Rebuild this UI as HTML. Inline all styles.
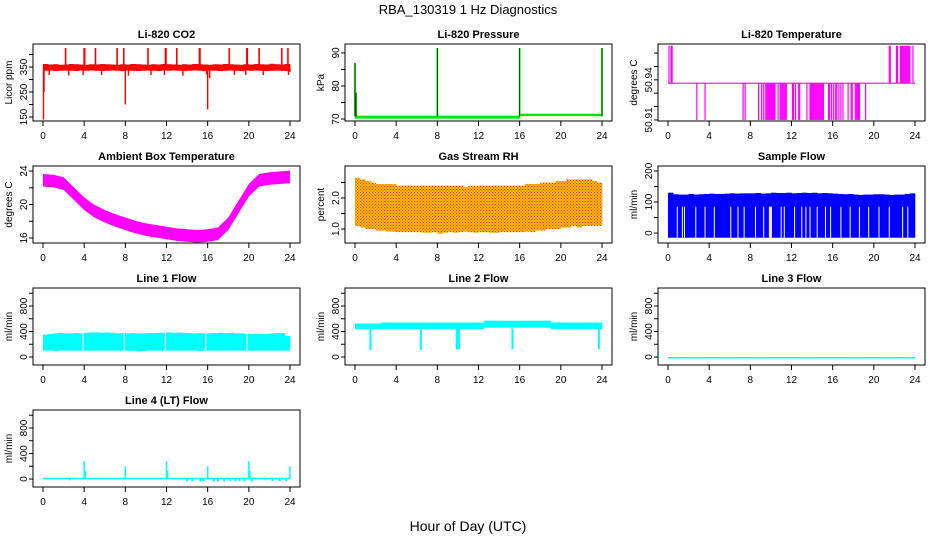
<!DOCTYPE html>
<html><head><meta charset="utf-8"><style>
html,body{margin:0;padding:0;background:#fff;}
svg{display:block;font-family:"Liberation Sans",Arial,sans-serif;}
</style></head><body>
<svg id="chart" width="936" height="540" viewBox="0 0 936 540">
<text x="468" y="14" text-anchor="middle" font-size="13">RBA_130319  1 Hz Diagnostics</text>
<text x="468" y="531" text-anchor="middle" font-size="14">Hour of Day (UTC)</text>
<defs><pattern id="rhpat" width="3" height="3" patternUnits="userSpaceOnUse"><rect width="3" height="3" fill="#ffc000"/><rect width="1" height="1" fill="#f22"/><rect x="1.5" y="1.5" width="1" height="1" fill="#f22"/></pattern></defs>
</svg>
<script>
// ---------- data ----------
const xTicks = [0,4,8,12,16,20,24];
const binHours = Array.from({length:48},(_,i)=>i*0.5);
// CO2
const co2Lo = [335,336,334,335,336,335,334,336,335,336,335,334,335,336,335,334,336,335,334,335,336,335,334,336,335,336,335,334,335,336,335,334,336,335,334,335,336,335,334,336,335,336,335,334,335,336,335,334];
const co2Hi = [362,360,361,359,360,362,361,360,359,361,360,362,361,360,359,361,360,362,361,360,359,361,360,362,361,360,359,361,360,362,361,360,359,361,360,362,361,360,359,361,360,362,361,360,363,361,360,362];
const co2SpikeHours = [2.2,4.0,4.05,5.1,7.2,7.85,10.2,11.9,11.95,13.0,15.2,15.25,18.1,19.8,19.85,21.0,23.2,23.8];
const co2SpikeVals = [426,426,426,426,426,426,426,426,426,426,426,426,426,426,426,426,426,426];
const co2DipHours = [0.05,0.1,0.6,2.5,3.9,5.7,8.0,8.3,10.5,11.8,13.6,15.9,16.0,16.2,18.6,19.7,21.4,23.85,24.0];
const co2DipVals = [140,250,318,316,318,318,200,315,318,318,315,320,180,305,318,318,318,318,330];
// Pressure
const presLo = binHours.map(h=>h<16?70.1:70.9);
const presHi = binHours.map(h=>h<16?71.0:71.6);
const presSpikeHours = [0.0,0.1,8.0,16.0,24.0];
const presSpikeVals = [87,78,91.5,91.5,91.5];
// Li-820 temperature
const ltBase = 50.9375;
const ltUpHours = [0.1,0.3,0.4,21.5,21.6,22.2,22.3,22.6,22.7,22.8,22.9,23.0,23.1,23.2,23.3,23.4,23.5,23.8];
const ltDownHours = [2.8,3.6,7.3,7.5,8.8,9.1,9.3,9.5,9.6,9.7,9.8,9.9,10.0,10.1,10.2,10.3,10.4,10.7,10.9,11.0,11.1,11.2,11.3,11.4,11.5,12.1,12.2,12.4,12.7,12.8,13.5,13.8,13.9,14.0,14.1,14.2,14.3,14.4,14.5,14.6,14.7,14.8,14.9,15.0,15.1,15.6,15.7,15.9,16.1,16.3,16.4,16.6,16.8,17.0,17.5,17.8,17.9,18.2,18.3,18.4,18.5,18.6,19.2];
// Ambient temperature
const ambHours = [0,1,2,3,4,5,6,7,8,9,10,11,12,13,14,15,16,17,18,19,20,21,22,23,24];
const ambMid = [22.9,22.8,22.5,21.3,20.1,19.2,18.6,18.1,17.7,17.3,17.0,16.8,16.6,16.4,16.3,16.2,16.3,16.5,17.7,19.7,21.7,22.9,23.1,23.2,23.3];
// RH
const rhLo = [1.1,1.05,1.0,1.0,0.95,0.95,0.92,0.92,0.9,0.9,0.9,0.9,0.9,0.88,0.88,0.9,0.85,0.88,0.9,0.88,0.9,0.92,0.9,0.88,0.9,0.9,0.88,0.88,0.9,0.9,0.9,0.9,0.9,0.92,0.9,0.95,0.95,1.0,1.0,1.0,1.05,1.05,1.1,1.05,1.1,1.1,1.1,1.1];
const rhHi = [2.65,2.6,2.55,2.5,2.45,2.45,2.45,2.45,2.4,2.4,2.4,2.4,2.4,2.4,2.4,2.4,2.4,2.4,2.4,2.4,2.4,2.35,2.4,2.4,2.4,2.4,2.4,2.4,2.4,2.4,2.4,2.4,2.4,2.45,2.45,2.45,2.5,2.5,2.5,2.55,2.55,2.6,2.6,2.6,2.6,2.6,2.55,2.5];
// Sample flow
const sfLo = binHours.map(()=>-15);
const sfHi = [130,125,124,124,126,124,125,126,127,126,126,127,128,127,128,128,128,129,127,128,130,129,129,130,128,129,130,129,130,128,129,128,127,126,125,126,124,123,124,124,125,125,124,123,124,124,126,128];
const sfGapHours = [0.9,1.4,1.6,2.7,3.6,4.5,6.1,6.8,7.4,8.5,9.3,9.85,9.95,10.05,11.0,11.3,12.3,13.0,13.4,13.8,14.5,15.3,15.8,16.8,17.7,18.6,19.5,20.5,21.5,22.8,23.3];
// Line flows
const l1Lo = [100,100,95,100,100,100,100,100,100,100,100,100,100,100,100,100,100,100,90,95,100,100,100,100,100,100,100,100,100,100,95,100,100,100,100,100,100,100,100,100,100,100,100,100,100,100,100,100];
const l1Hi = [350,360,370,380,370,370,375,370,380,385,385,380,385,380,370,375,370,375,370,370,375,375,380,380,385,380,385,380,375,370,375,370,370,375,380,375,380,370,370,365,360,365,360,365,370,375,375,330];
const l1GapHours = [3.9,7.9,11.9,15.8,19.8];
const l2Lo = binHours.map(h=>(h>=12.5&&h<19)?460:435);
const l2Hi = binHours.map(h=>(h>=12.5&&h<19)?570:(h<2.5?525:540));
const l2DipHours = [1.5,6.4,9.9,10.0,10.1,15.3,23.7];
const l2DipVals = [110,110,120,120,120,120,120];
const l3Val = binHours.map(()=>0);
const l4Lo = binHours.map(()=>0);
const l4Hi = binHours.map(()=>20);
const l4SpikeHours = [4.0,4.1,8.0,12.0,12.1,16.0,20.0,20.1,24.0];
const l4SpikeVals = [280,130,200,280,130,200,280,130,200];
const l4DipHours = [2.6,14.0,14.5,15.3,15.6,16.6,17.0,17.6,18.2,18.7,19.1,19.6,20.3,21.6,22.3,23.0,23.6];
const l4DipVals = [-20,-40,-35,-40,-35,-40,-35,-40,-35,-40,-35,-40,-40,-20,-30,-35,-30];

// ---------- drawing ----------
const NS='http://www.w3.org/2000/svg';
const svg=document.getElementById('chart');
function mk(tag,attrs,parent){const e=document.createElementNS(NS,tag);for(const k in attrs)e.setAttribute(k,attrs[k]);(parent||svg).appendChild(e);return e;}
const colLeft=[33,345,658], rowTop=[44,166,288,410], W=267, H=77;

function panel(id,col,row,title,ylab,ymin,ymax,ticks,labels){
  const L=colLeft[col],T=rowTop[row];
  const g=mk('g',{});
  
  
  const sx=h=>L+10+h*(247/24);
  const sy=v=>T+H-(v-ymin)/(ymax-ymin)*H;
  const plot=mk('g',{},g);
  
  
  const box=mk('rect',{x:L,y:T,width:W,height:H,fill:'none',stroke:'#000','stroke-width':1},g);
  
  
  const t=mk('text',{x:L+W/2,y:T-6,'text-anchor':'middle','font-size':11,'font-weight':'bold'},g);
  
  
  t.textContent=title;
  mk('line',{x1:sx(0),x2:sx(24),y1:T+H,y2:T+H,stroke:'#000'},g);
  xTicks.forEach(h=>{
    const tk=mk('line',{x1:sx(h),x2:sx(h),y1:T+H,y2:T+H+5,stroke:'#000'},g);
    
    
    const lb=mk('text',{x:sx(h),y:T+H+18,'text-anchor':'middle','font-size':10},g);
    
    
    lb.textContent=h;
  });
  mk('line',{x1:L,x2:L,y1:sy(ticks[0]),y2:sy(ticks[ticks.length-1]),stroke:'#000'},g);
  ticks.forEach((v,i)=>{
    const tk=mk('line',{x1:L-4,x2:L,y1:sy(v),y2:sy(v),stroke:'#000'},g);
    
    
    if(labels[i]!==''){
      const lb=mk('text',{x:L-6,y:sy(v),'text-anchor':'middle','font-size':10,transform:`rotate(-90 ${L-6} ${sy(v)})`},g);
      
      
      lb.textContent=labels[i];
    }
  });
  const yl=mk('text',{x:L-21,y:T+H/2,'text-anchor':'middle','font-size':10,transform:`rotate(-90 ${L-21} ${T+H/2})`},g);
  
  
  yl.textContent=ylab;
  return {plot,sx,sy};
}
function bands(p,lo,hi,fill,name){
  binHours.forEach((h,i)=>{
    const x0=p.sx(h),x1=p.sx(Math.min(24,h+0.5));
    const r=mk('rect',{x:x0,y:p.sy(hi[i]),width:x1-x0+0.3,height:Math.max(1.5,p.sy(lo[i])-p.sy(hi[i])),fill:fill},p.plot);
    
    
  });
}
function spikes(p,hours,vals,base,color,w,name){
  hours.forEach((h,i)=>{
    const a=p.sy(base),b=p.sy(vals[i]);
    const r=mk('rect',{x:p.sx(h)-w/2,y:Math.min(a,b),width:w,height:Math.abs(a-b),fill:color},p.plot);
    
    
  });
}

let p=panel('co2',0,0,'Li-820 CO2','Licor ppm',134,442,[150,200,250,300,350,400],['150','','250','','350','']);
bands(p,co2Lo,co2Hi,'#f00','co2-band');
spikes(p,co2SpikeHours,co2SpikeVals,350,'#f00',1.6,'co2-spike');
spikes(p,co2DipHours,co2DipVals,345,'#f00',1.4,'co2-dip');

p=panel('pressure',1,0,'Li-820 Pressure','kPa',69.4,92.7,[70,75,80,85,90],['70','','80','','90']);
bands(p,presLo,presHi,'#00e600','pressure-band');
spikes(p,presSpikeHours,presSpikeVals,70.8,'#00e600',1.8,'pressure-spike');
spikes(p,presSpikeHours,presSpikeVals,70.8,'#000',0.6,'pressure-spike-line');

p=panel('li820-temp',2,0,'Li-820 Temperature','degrees C',50.9092,50.9668,[50.91,50.92,50.93,50.94,50.95,50.96],['50.91','','','50.94','','']);
spikes(p,ltUpHours,ltUpHours.map(()=>50.9655),ltBase,'#f0f',1.2,'li820-temp-up-spike');
spikes(p,ltDownHours,ltDownHours.map(()=>50.91),ltBase,'#f0f',1.2,'li820-temp-down-spike');
{const ln=mk('line',{x1:p.sx(0),x2:p.sx(24),y1:p.sy(ltBase),y2:p.sy(ltBase),stroke:'#f0f','stroke-width':1.2},p.plot);

}

p=panel('ambient',0,1,'Ambient Box Temperature','degrees C',15.4,24.6,[16,18,20,22,24],['16','','20','','24']);
{const pts=ambHours.map((h,i)=>p.sx(h)+','+p.sy(ambMid[i]+0.75)).concat(ambHours.map((h,i)=>p.sx(h)+','+p.sy(ambMid[i]-0.75)).reverse());
const pg=mk('polygon',{points:pts.join(' '),fill:'#f0f'},p.plot);

}

p=panel('rh',1,1,'Gas Stream RH','percent',0.55,3.03,[1.0,1.5,2.0,2.5],['1.0','','2.0','']);
bands(p,rhLo,rhHi,'url(#rhpat)','rh-band');

p=panel('sample-flow',2,1,'Sample Flow','ml/min',-32,216,[0,50,100,150,200],['0','','100','','200']);
bands(p,sfLo,sfHi,'#00f','sample-flow-band');
spikes(p,sfGapHours,sfGapHours.map(()=>85),-15,'#fff',1.0,'sample-flow-gap');

const flowTicks=[0,200,400,600,800,1000], flowLabels=['0','','400','','800',''];
p=panel('line1-flow',0,2,'Line 1 Flow','ml/min',-125,1082,flowTicks,flowLabels);
bands(p,l1Lo,l1Hi,'#0ff','line1-flow-band');
spikes(p,l1GapHours,l1GapHours.map(()=>390),95,'#fff',1.2,'line1-flow-gap');

p=panel('line2-flow',1,2,'Line 2 Flow','ml/min',-125,1082,flowTicks,flowLabels);
bands(p,l2Lo,l2Hi,'#0ff','line2-flow-band');
spikes(p,l2DipHours,l2DipVals,450,'#0ff',2,'line2-flow-dip');

p=panel('line3-flow',2,2,'Line 3 Flow','ml/min',-125,1082,flowTicks,flowLabels);
bands(p,l3Val,l3Val,'#0ff','line3-flow-line');

p=panel('line4-flow',0,3,'Line 4 (LT) Flow','ml/min',-125,1082,flowTicks,flowLabels);
bands(p,l4Lo,l4Hi,'#0ff','line4-flow-band');
spikes(p,l4SpikeHours,l4SpikeVals,10,'#0ff',1.5,'line4-flow-spike');
spikes(p,l4DipHours,l4DipVals,5,'#0ff',2,'line4-flow-dip');
</script>
</body></html>
